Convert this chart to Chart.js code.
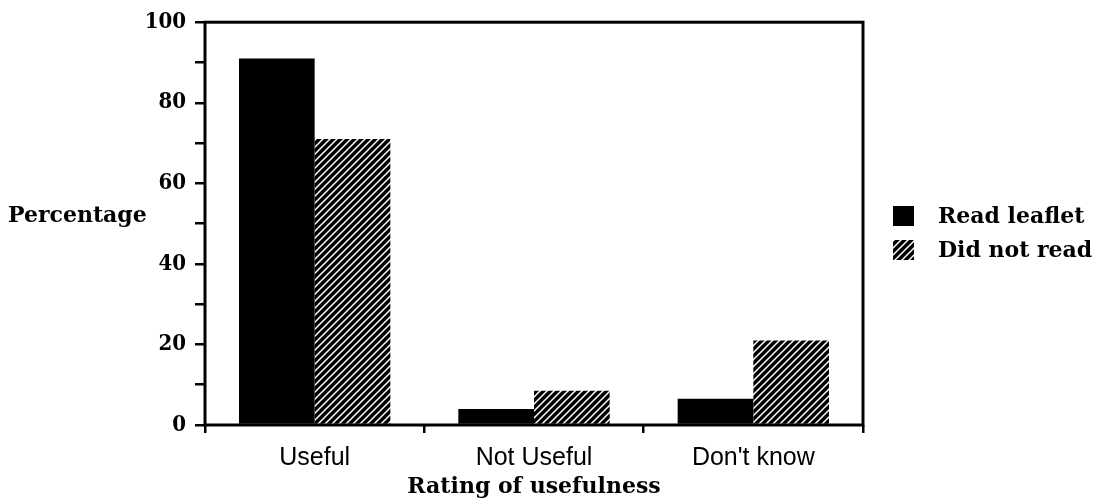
<!DOCTYPE html>
<html>
<head>
<meta charset="utf-8">
<script src="https://cdn.jsdelivr.net/npm/chart.js@4.4.1/dist/chart.umd.min.js"></script>
<style>
html, body { margin: 0; padding: 0; background: #fff; }
#wrap { width: 1106px; height: 503px; }
</style>
</head>
<body>
<div id="wrap"><canvas id="myChart"></canvas></div>
<script>
/** Data start */
const categories = ['Useful', 'Not Useful', "Don't know"];
const seriesNames = ['Read leaflet', 'Did not read'];
const readLeaflet = [91, 4, 6.5];
const didNotRead = [71, 8.5, 21];
const yTickLabels = [0, 20, 40, 60, 80, 100];
const yTitle = 'Percentage';
const xTitle = 'Rating of usefulness';
/** Data end */

const serif = '"DejaVu Serif", serif';

// diagonal white hatch on black
function makeHatch() {
    const n = 7;
    const c = document.createElement('canvas');
    c.width = n;
    c.height = n;
    const g = c.getContext('2d');
    g.fillStyle = '#000';
    g.fillRect(0, 0, n, n);
    g.strokeStyle = '#fff';
    g.lineWidth = 1.5;
    g.beginPath();
    g.moveTo(-1, n + 1); g.lineTo(n + 1, -1);
    g.moveTo(-1, 1); g.lineTo(1, -1);
    g.moveTo(n - 1, n + 1); g.lineTo(n + 1, n - 1);
    g.stroke();
    return g.createPattern(c, 'repeat');
}

// box round the plot area
const framePlugin = {
    id: 'frame',
    afterDatasetsDraw(chart) {
        const a = chart.chartArea;
        const ctx = chart.ctx;
        ctx.save();
        ctx.strokeStyle = '#000';
        ctx.lineWidth = 3;
        ctx.strokeRect(a.left, a.top, a.right - a.left, a.bottom - a.top);
        ctx.restore();
    }
};

// horizontal y title + legend on the right
const sidePlugin = {
    id: 'side',
    afterDraw(chart) {
        const ctx = chart.ctx;
        const a = chart.chartArea;
        ctx.save();
        ctx.fillStyle = '#000';
        ctx.font = 'bold 22px ' + serif;
        ctx.textBaseline = 'alphabetic';
        ctx.textAlign = 'left';
        ctx.fillText(yTitle, 8, 222);

        chart.data.datasets.forEach((ds, i) => {
            const cy = 216 + i * 34;
            ctx.fillStyle = ds.backgroundColor;
            ctx.fillRect(a.right + 30, cy - 10, 21, 20);
            ctx.fillStyle = '#000';
            ctx.textBaseline = 'middle';
            ctx.fillText(ds.label, a.right + 75, cy + 1);
        });
        ctx.restore();
    }
};

const data = {
    labels: categories,
    datasets: [{
        label: seriesNames[0],
        data: readLeaflet,
        backgroundColor: '#000',
        borderWidth: 0
    }, {
        label: seriesNames[1],
        data: didNotRead,
        backgroundColor: makeHatch(),
        borderWidth: 0
    }]
};

const config = {
    type: 'bar',
    data: data,
    options: {
        responsive: true,
        maintainAspectRatio: false,
        animation: false,
        layout: { padding: { left: 0, top: 14, right: 243, bottom: 0 } },
        datasets: { bar: { categoryPercentage: 0.69, barPercentage: 1 } },
        plugins: {
            legend: { display: false },
            tooltip: { enabled: false }
        },
        scales: {
            x: {
                offset: true,
                grid: { offset: true, drawOnChartArea: false, drawTicks: true, tickLength: 8, color: '#000', lineWidth: 2.5 },
                border: { display: false },
                ticks: { color: '#000', padding: 10, font: { family: '"Liberation Sans", Arial', size: 25 } },
                title: { display: true, text: xTitle, color: '#000', padding: { top: 0, bottom: 3 }, font: { family: serif, size: 22, weight: 'bold' } },
                afterFit(scale) { scale.height = 78; }
            },
            y: {
                min: 0,
                max: 100,
                grid: { drawOnChartArea: false, drawTicks: true, tickLength: 10, color: '#000', lineWidth: 2.5 },
                border: { display: false },
                ticks: {
                    stepSize: 10,
                    color: '#000',
                    padding: 9,
                    font: { family: '"DejaVu Serif Condensed", "DejaVu Serif", serif', size: 22, weight: 'bold' },
                    callback: (v) => yTickLabels.includes(v) ? String(v) : ''
                },
                afterFit(scale) { scale.width = 205; }
            }
        }
    },
    plugins: [framePlugin, sidePlugin]
};

const myChart = new Chart(document.getElementById('myChart'), config);
</script>
</body>
</html>
